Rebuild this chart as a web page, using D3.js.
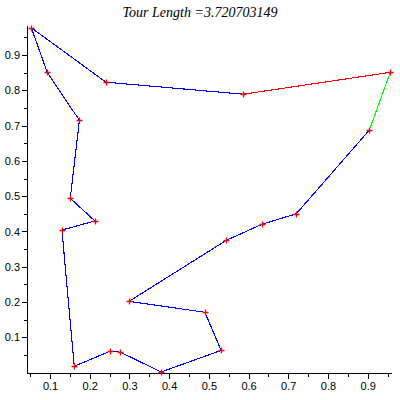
<!DOCTYPE html>
<html>
<head>
<meta charset="utf-8">
<script src="https://cdn.jsdelivr.net/npm/d3@7"></script>
<style>
  html, body { margin: 0; padding: 0; background: #fff; }
  svg { display: block; }
  .tick text { font-family: "Liberation Sans", Arial, sans-serif; font-size: 11px; fill: #000; }
</style>
</head>
<body>
<div id="chart"></div>
<script>
// ---- data (tour order) ----
const tourX = [0.053, 0.093, 0.174, 0.151, 0.213, 0.130, 0.161, 0.252, 0.277, 0.380,
               0.531, 0.490, 0.299, 0.544, 0.635, 0.720, 0.904, 0.957, 0.587, 0.241];
const tourY = [0.977, 0.851, 0.715, 0.494, 0.430, 0.404, 0.018, 0.061, 0.058, 0.002,
               0.063, 0.171, 0.202, 0.375, 0.421, 0.450, 0.687, 0.851, 0.789, 0.823];
const titleText = "Tour Length =3.720703149";
const majorTicks = [0.1, 0.2, 0.3, 0.4, 0.5, 0.6, 0.7, 0.8, 0.9];
const minorTicks = [0.05, 0.15, 0.25, 0.35, 0.45, 0.55, 0.65, 0.75, 0.85, 0.95];
// segment index -> colour override (others blue)
const segHighlight = { 16: "#00ff00", 17: "#ff0000" };

const W = 400, H = 400;
const svg = d3.select("#chart").append("svg").attr("width", W).attr("height", H);

const x = d3.scaleLinear().domain([0.042, 0.957]).range([27, 390.3]);
const y = d3.scaleLinear().domain([-0.003, 0.978]).range([373.7, 27.5]);

// title
svg.append("text")
  .attr("x", 200).attr("y", 17)
  .attr("text-anchor", "middle")
  .style("font-family", "'Liberation Serif', 'Times New Roman', serif")
  .style("font-style", "italic")
  .style("font-size", "14px")
  .text(titleText);

// axes
const yMinor = d3.axisLeft(y).tickValues(minorTicks.filter(v => v <= 0.978)).tickSize(3).tickSizeOuter(0).tickFormat("");
const yMajor = d3.axisLeft(y).tickValues(majorTicks).tickSize(5).tickSizeOuter(0).tickPadding(2).tickFormat(d3.format(".1f"));
const xMinor = d3.axisBottom(x).tickValues(minorTicks.filter(v => v >= 0.042 && v <= 0.957)).tickSize(3).tickSizeOuter(0).tickFormat("");
const xMajor = d3.axisBottom(x).tickValues(majorTicks).tickSize(5).tickSizeOuter(0).tickPadding(4).tickFormat(d3.format(".1f"));

const gy = svg.append("g").attr("transform", `translate(${x(0.042)},0)`);
gy.append("g").call(yMinor);
gy.append("g").call(yMajor);
const gx = svg.append("g").attr("transform", `translate(0,${y(-0.003)})`);
gx.append("g").call(xMinor);
gx.append("g").call(xMajor);

svg.selectAll(".domain").attr("stroke", "#000").attr("shape-rendering", "crispEdges");
svg.selectAll(".tick line").attr("stroke", "#000").attr("shape-rendering", "crispEdges");

// extend axis lines slightly (y axis to top, x to right)
gy.selectAll(".domain").attr("d", `M0,${y(-0.003)}V26`);
gx.selectAll(".domain").attr("d", `M${x(0.042)},0H392`);

// tour segments
const n = tourX.length;
const segs = d3.range(n).map(i => ({
  x1: tourX[i], y1: tourY[i], x2: tourX[(i + 1) % n], y2: tourY[(i + 1) % n],
  color: segHighlight[i] || "#0000ff"
}));
svg.append("g").selectAll("line").data(segs).join("line")
  .attr("x1", d => x(d.x1)).attr("y1", d => y(d.y1))
  .attr("x2", d => x(d.x2)).attr("y2", d => y(d.y2))
  .attr("stroke", d => d.color)
  .attr("stroke-width", 1.1)
  .attr("shape-rendering", "crispEdges");

// point markers (+)
const s = 3;
const pts = d3.range(n).map(i => [tourX[i], tourY[i]]);
svg.append("g").selectAll("path").data(pts).join("path")
  .attr("d", d => {
    const cx = Math.round(x(d[0])) + 0.5, cy = Math.round(y(d[1])) + 0.5;
    return `M${cx - s},${cy}H${cx + s}M${cx},${cy - s}V${cy + s}`;
  })
  .attr("stroke", "#ff0000")
  .attr("stroke-width", 1.3)
  .attr("fill", "none");
</script>
</body>
</html>
